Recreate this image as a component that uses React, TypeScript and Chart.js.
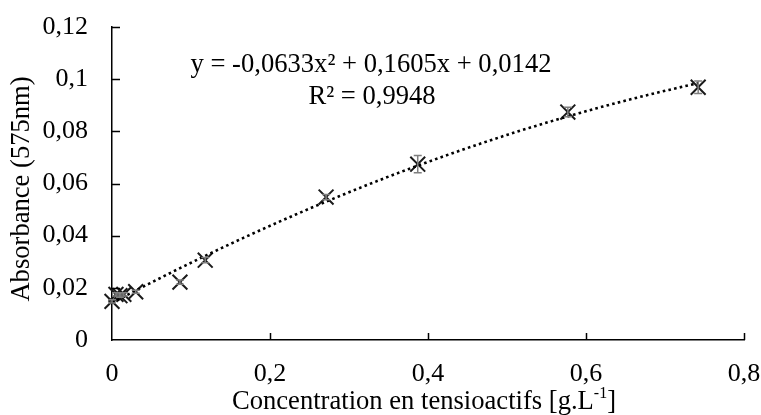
import React, { useEffect, useRef } from 'react';
import { Chart, registerables } from 'chart.js';

Chart.register(...registerables);

// ---- data ----
const concentrations = [0, 0.005, 0.01, 0.015, 0.03, 0.086, 0.118, 0.271, 0.387, 0.577, 0.742];
const absorbances = [0.0148, 0.0175, 0.017, 0.0175, 0.0185, 0.0222, 0.0306, 0.0548, 0.0674, 0.0874, 0.0969];
const errorBars = [0.0006, 0.0006, 0.0006, 0.0006, 0.0006, 0.0008, 0.001, 0.001, 0.0033, 0.0018, 0.0024];

// polynomial (order 2) trendline, as printed on the chart: y = a x² + b x + c
const trendA = -0.0633;
const trendB = 0.1605;
const trendC = 0.0142;

const xTickValues = [0, 0.2, 0.4, 0.6, 0.8];
const xTickLabels = ['0', '0,2', '0,4', '0,6', '0,8'];
const yTickValues = [0, 0.02, 0.04, 0.06, 0.08, 0.1, 0.12];
const yTickLabels = ['0', '0,02', '0,04', '0,06', '0,08', '0,1', '0,12'];

const equationText = 'y = -0,0633x² + 0,1605x + 0,0142';
const r2Text = 'R² = 0,9948';
const xTitleMain = 'Concentration en tensioactifs [g.L';
const xTitleSup = '-1';
const xTitleEnd = ']';
const yTitleText = 'Absorbance (575nm)';

const FONT = "'Liberation Serif', 'Times New Roman', serif";
const FS = 26;
const FS_TEXT = 26.6;

function trendPoints() {
  const xmin = Math.min(...concentrations);
  const xmax = Math.max(...concentrations);
  const n = 80;
  const pts: { x: number; y: number }[] = [];
  for (let i = 0; i <= n; i++) {
    const x = xmin + ((xmax - xmin) * i) / n;
    pts.push({ x, y: trendA * x * x + trendB * x + trendC });
  }
  return pts;
}

const decorPlugin = {
  id: 'decor',
  afterDatasetsDraw(chart: any) {
    const ctx = chart.ctx as CanvasRenderingContext2D;
    const xs = chart.scales.x;
    const ys = chart.scales.y;
    const area = chart.chartArea;
    ctx.save();

    // error bars
    ctx.strokeStyle = '#7f7f7f';
    ctx.lineWidth = 1.5;
    concentrations.forEach((cx, i) => {
      const px = xs.getPixelForValue(cx);
      const top = ys.getPixelForValue(absorbances[i] + errorBars[i]);
      const bot = ys.getPixelForValue(absorbances[i] - errorBars[i]);
      ctx.beginPath();
      ctx.moveTo(px, top);
      ctx.lineTo(px, bot);
      ctx.moveTo(px - 4, top);
      ctx.lineTo(px + 4, top);
      ctx.moveTo(px - 4, bot);
      ctx.lineTo(px + 4, bot);
      ctx.stroke();
    });

    // inner tick marks
    ctx.strokeStyle = '#000';
    ctx.lineWidth = 1.5;
    ctx.beginPath();
    yTickValues.forEach((v) => {
      if (v === 0) return;
      const py = Math.round(ys.getPixelForValue(v)) + 0.5;
      ctx.moveTo(area.left, py);
      ctx.lineTo(area.left + 8, py);
    });
    xTickValues.forEach((v) => {
      if (v === 0) return;
      const px = Math.round(xs.getPixelForValue(v)) + 0.5;
      ctx.moveTo(px, area.bottom);
      ctx.lineTo(px, area.bottom - 7);
    });
    ctx.stroke();

    // equation
    ctx.fillStyle = '#000';
    ctx.font = `${FS_TEXT}px ${FONT}`;
    ctx.textAlign = 'center';
    ctx.textBaseline = 'middle';
    const eqX = area.left + 259;
    ctx.fillText(equationText, eqX, area.top + 38);
    ctx.fillText(r2Text, eqX + 1, area.top + 70);

    // x title with superscript
    const supFont = `${Math.round(FS_TEXT * 0.62)}px ${FONT}`;
    ctx.font = `${FS_TEXT}px ${FONT}`;
    const w1 = ctx.measureText(xTitleMain).width;
    const w3 = ctx.measureText(xTitleEnd).width;
    ctx.font = supFont;
    const w2 = ctx.measureText(xTitleSup).width;
    const total = w1 + w2 + w3;
    let tx = (area.left + area.right) / 2 - 4 - total / 2;
    const ty = 402;
    ctx.textAlign = 'left';
    ctx.font = `${FS_TEXT}px ${FONT}`;
    ctx.fillText(xTitleMain, tx, ty);
    tx += w1;
    ctx.font = supFont;
    ctx.fillText(xTitleSup, tx, ty - 8);
    tx += w2;
    ctx.font = `${FS_TEXT}px ${FONT}`;
    ctx.fillText(xTitleEnd, tx, ty);

    // y title
    ctx.save();
    ctx.translate(22, 189);
    ctx.rotate(-Math.PI / 2);
    ctx.textAlign = 'center';
    ctx.fillText(yTitleText, 0, 0);
    ctx.restore();

    ctx.restore();
  },
};

function zeroPad(s: any) {
  s.paddingTop = 0;
  s.paddingBottom = 0;
  s.paddingLeft = 0;
  s.paddingRight = 0;
}

export default function App() {
  const ref = useRef<HTMLCanvasElement | null>(null);
  useEffect(() => {
    if (!ref.current) return;
    const chart = new Chart(ref.current, {
      type: 'scatter',
      data: {
        datasets: [
          {
            label: 'trend',
            data: trendPoints(),
            showLine: true,
            borderColor: '#000',
            borderWidth: 2.6,
            borderDash: [2.6, 3.2],
            pointRadius: 0,
            fill: false,
          },
          {
            label: 'Absorbance',
            data: concentrations.map((x, i) => ({ x, y: absorbances[i] })),
            showLine: false,
            clip: false,
            pointStyle: 'crossRot',
            pointRadius: 10.5,
            borderColor: '#1a1a1a',
            backgroundColor: '#1a1a1a',
            pointBorderWidth: 2,
          },
        ],
      },
      options: {
        animation: false,
        responsive: true,
        maintainAspectRatio: false,
        layout: { padding: { left: 0, right: 17, top: 27, bottom: 0 } },
        plugins: { legend: { display: false }, tooltip: { enabled: false } },
        scales: {
          x: {
            type: 'linear',
            min: 0,
            max: 0.8,
            afterBuildTicks: (s: any) => {
              s.ticks = xTickValues.map((v) => ({ value: v }));
            },
            afterFit: (s: any) => {
              s.height = 75;
              zeroPad(s);
            },
            grid: { display: true, drawOnChartArea: false, drawTicks: false },
            border: { display: true, color: '#000', width: 1.5 },
            ticks: {
              padding: 19,
              color: '#000',
              font: { family: FONT, size: FS },
              maxRotation: 0,
              callback: (_v: any, i: number) => xTickLabels[i],
            },
          },
          y: {
            type: 'linear',
            min: 0,
            max: 0.12,
            afterBuildTicks: (s: any) => {
              s.ticks = yTickValues.map((v) => ({ value: v }));
            },
            afterFit: (s: any) => {
              s.width = 112;
              zeroPad(s);
            },
            grid: { display: true, drawOnChartArea: false, drawTicks: false },
            border: { display: true, color: '#000', width: 1.5 },
            ticks: {
              padding: 24,
              color: '#000',
              font: { family: FONT, size: FS },
              callback: (_v: any, i: number) => yTickLabels[i],
            },
          },
        },
      },
      plugins: [decorPlugin],
    });
    return () => chart.destroy();
  }, []);
  return (
    <div style={{ position: 'fixed', left: 0, top: 0, width: 761, height: 415, background: '#fff' }}>
      <canvas ref={ref} />
    </div>
  );
}
